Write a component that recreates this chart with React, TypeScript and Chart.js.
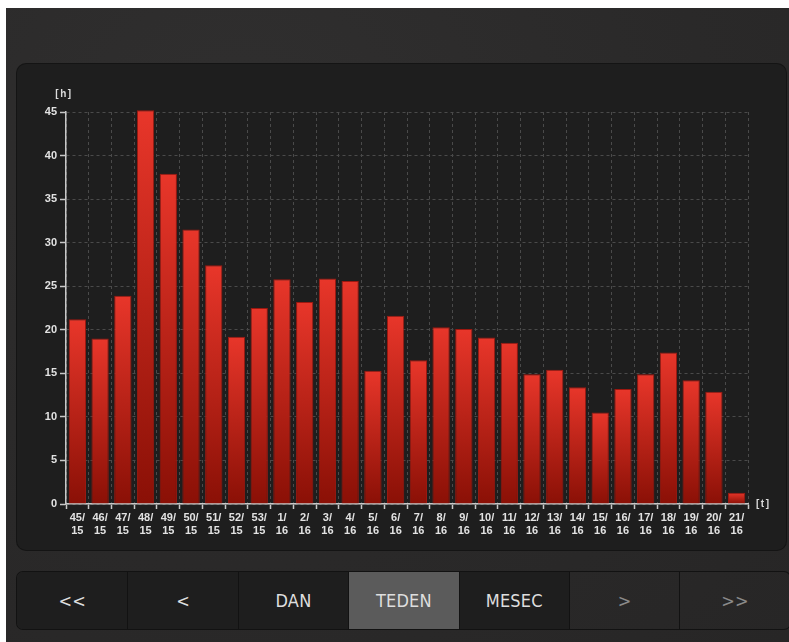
import React, { useEffect, useRef } from "react";
import { Chart, registerables } from "chart.js";

Chart.register(...registerables);

// ---- data ----
const weeks = ["45", "46", "47", "48", "49", "50", "51", "52", "53", "1", "2", "3", "4", "5", "6", "7", "8", "9", "10", "11", "12", "13", "14", "15", "16", "17", "18", "19", "20", "21"];
const years = ["15", "15", "15", "15", "15", "15", "15", "15", "15", "16", "16", "16", "16", "16", "16", "16", "16", "16", "16", "16", "16", "16", "16", "16", "16", "16", "16", "16", "16", "16"];
const hours = [21.2, 19.0, 23.9, 45.2, 37.9, 31.5, 27.4, 19.2, 22.5, 25.8, 23.2, 25.9, 25.6, 15.3, 21.6, 16.5, 20.3, 20.1, 19.1, 18.5, 14.9, 15.4, 13.4, 10.5, 13.2, 14.9, 17.4, 14.2, 12.9, 1.3];
const yMin = 0;
const yMax = 45;
const yStep = 5;
const yUnit = "[h]";
const xUnit = "[t]";
const buttons = ["<<", "<", "DAN", "TEDEN", "MESEC", ">", ">>"];
const activeButton = "TEDEN";
const disabledButtons = [">", ">>"];

const labelFont = '"Liberation Sans", Arial, sans-serif';

const unitsPlugin = {
  id: "units",
  afterDraw(chart: any) {
    const { ctx, chartArea } = chart;
    ctx.save();
    ctx.fillStyle = "#dcdcdc";
    ctx.font = `bold 10px ${labelFont}`;
    (ctx as any).letterSpacing = "1.5px";
    ctx.textBaseline = "middle";
    ctx.textAlign = "center";
    ctx.fillText(yUnit, chartArea.left - 2, chartArea.top - 18);
    ctx.textAlign = "left";
    ctx.fillText(xUnit, chartArea.right + 8, chartArea.bottom);
    ctx.restore();
  },
};

function ChartPanel() {
  const ref = useRef<HTMLCanvasElement | null>(null);
  useEffect(() => {
    if (!ref.current) return;
    const labels = weeks.map((w, i) => [w + "/", years[i]]);
    const chart = new Chart(ref.current, {
      type: "bar",
      data: {
        labels,
        datasets: [
          {
            data: hours,
            clip: false as any,
            backgroundColor: (c: any) => {
              const ch = c.chart;
              const y = ch.scales && ch.scales.y;
              if (!y || c.type !== "data" || !c.parsed) return "#d52b21";
              const top = y.getPixelForValue(c.parsed.y);
              const base = y.getPixelForValue(0);
              if (!isFinite(top) || !isFinite(base) || base - top < 1) return "#d52b21";
              const g = ch.ctx.createLinearGradient(0, top, 0, base);
              g.addColorStop(0, "#e8362a");
              g.addColorStop(1, "#8a1006");
              return g;
            },
            borderColor: "#9c1810",
            borderWidth: 1,
            borderSkipped: "bottom",
            barPercentage: 0.76,
            categoryPercentage: 1,
          },
        ],
      },
      options: {
        animation: false,
        responsive: false,
        layout: { padding: { left: 15, right: 38, top: 48, bottom: 0 } },
        plugins: {
          legend: { display: false },
          tooltip: { enabled: false },
        },
        scales: {
          x: {
            offset: true,
            grid: {
              display: true,
              offset: true,
              color: "#4a4a4a",
              lineWidth: 1,
              drawTicks: true,
              tickLength: 5,
              tickColor: "#c8c8c8",
              tickWidth: 1.5,
              tickBorderDash: [],
            },
            border: { display: true, color: "#c8c8c8", width: 1.5, dash: [3, 3] },
            ticks: {
              color: "#e2e2e2",
              font: { family: labelFont, size: 11, weight: "bold", lineHeight: 1.2 },
              padding: 2,
              maxRotation: 0,
              autoSkip: false,
            },
            afterFit: (s: any) => {
              s.height = 46;
            },
          },
          y: {
            min: yMin,
            max: yMax,
            grid: {
              color: "#4a4a4a",
              lineWidth: 1,
              drawTicks: true,
              tickLength: 6,
              tickColor: "#c8c8c8",
              tickWidth: 1.5,
              tickBorderDash: [],
            },
            border: { display: true, color: "#c8c8c8", width: 1.5, dash: [3, 3] },
            ticks: {
              stepSize: yStep,
              color: "#e2e2e2",
              font: { family: labelFont, size: 11, weight: "bold" },
              padding: 3,
            },
            afterFit: (s: any) => {
              s.width = 34;
            },
          },
        },
      },
      plugins: [unitsPlugin],
    } as any);
    return () => chart.destroy();
  }, []);
  return <canvas ref={ref} width={769} height={486} style={{ display: "block", width: 769, height: 486 }} />;
}

export default function App() {
  const btnW = 110.4;
  return (
    <div style={{ position: "fixed", inset: 0, overflow: "hidden", background: "#ffffff" }}>
      <div
        style={{
          position: "absolute",
          left: 6,
          top: 8,
          right: 0,
          bottom: 0,
          background:
            "radial-gradient(ellipse at 30% 20%, #302f2f 0%, #2a2929 60%, #272626 100%)",
        }}
      />
      <div
        style={{
          position: "absolute",
          left: 17,
          top: 64,
          width: 769,
          height: 486,
          background: "#1e1e1e",
          borderRadius: 9,
          boxShadow: "0 0 0 1px #141414",
          overflow: "hidden",
        }}
      >
        <ChartPanel />
      </div>
      <div
        style={{
          position: "absolute",
          left: 17,
          top: 572,
          width: btnW * buttons.length,
          height: 57,
          borderRadius: 6,
          overflow: "hidden",
          display: "flex",
          boxShadow: "0 0 0 1px #121212",
        }}
      >
        {buttons.map((b, i) => {
          const active = b === activeButton;
          const disabled = disabledButtons.includes(b);
          return (
            <div
              key={i}
              style={{
                width: btnW,
                height: 57,
                boxSizing: "border-box",
                borderLeft: i === 0 ? "none" : "1px solid #121212",
                background: active ? "#5b5b5b" : disabled ? "transparent" : "#1e1e1e",
                color: disabled ? "#8a8a8a" : "#dedede",
                display: "flex",
                alignItems: "center",
                justifyContent: "center",
                fontFamily: '"Liberation Sans Narrow", "DejaVu Sans Condensed", "Roboto", sans-serif',
                fontSize: 18,
                letterSpacing: 0.2,
              }}
            >
              {b}
            </div>
          );
        })}
      </div>
    </div>
  );
}
